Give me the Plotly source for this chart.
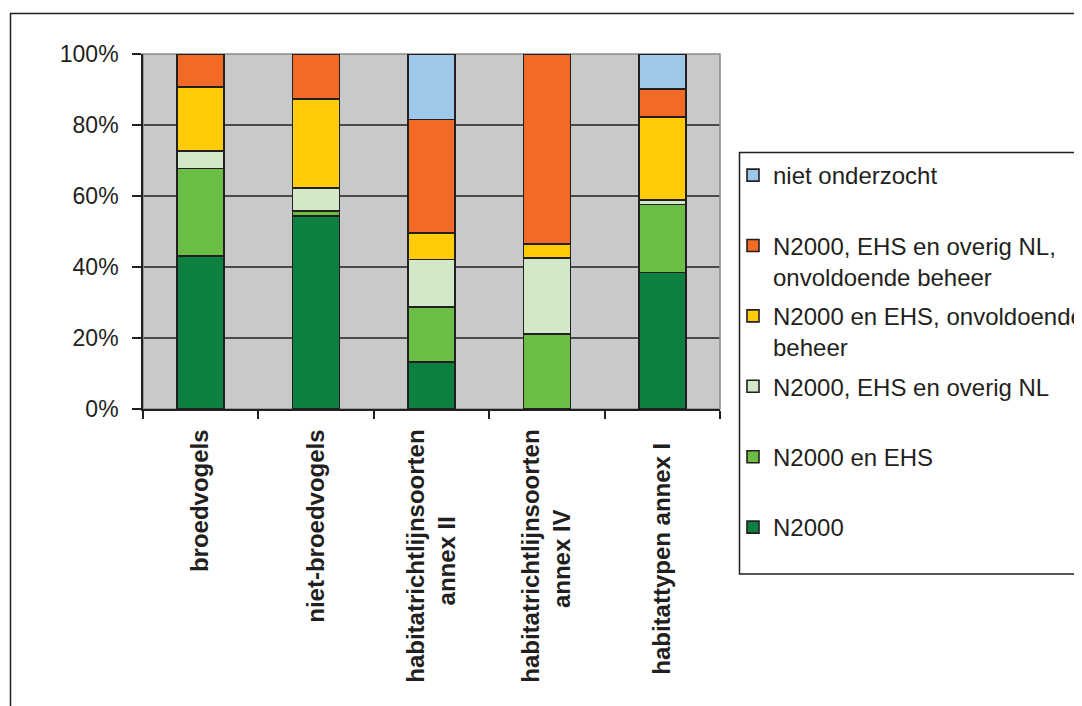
import plotly.graph_objects as go

NB = "\u00a0"
categories = ["broedvogels", "niet-broedvogels",
              "habitatrichtlijnsoorten<br>annex II" + NB * 13,
              "habitatrichtlijnsoorten<br>annex IV" + NB * 12,
              "habitattypen annex I" + NB * 2]

series_names = ["N2000", "N2000 en EHS", "N2000, EHS en overig NL",
                "N2000 en EHS, onvoldoende<br>beheer",
                "N2000, EHS en overig NL,<br>onvoldoende beheer", "niet onderzocht"]

n2000 = [43.1, 54.4, 13.2, 0.0, 38.4]
n2000_ehs = [24.6, 1.4, 15.5, 21.2, 19.2]
n2000_ehs_nl = [4.9, 6.4, 13.4, 21.3, 1.2]
n2000_ehs_onv = [18.1, 25.1, 7.5, 3.9, 23.4]
n2000_ehs_nl_onv = [9.3, 12.7, 32.0, 53.6, 7.9]
niet_onderzocht = [0.0, 0.0, 18.4, 0.0, 9.9]

series_values = [n2000, n2000_ehs, n2000_ehs_nl, n2000_ehs_onv, n2000_ehs_nl_onv, niet_onderzocht]
colors = ["#0B8040", "#6CBD45", "#D2E8C8", "#FFCC05", "#F26A23", "#9EC8EA"]

y_ticks = [0, 20, 40, 60, 80, 100]
y_ticktext = ["0%", "20%", "40%", "60%", "80%", "100%"]
grid_vals = [20, 40, 60, 80]

OFF = 8  # browser body margin
W, H = 1082, 706
L, R, T, B = 143 - OFF, 720 - OFF, 54 - OFF, 409 - OFF

def px(xp):
    return (xp - OFF - L) / (R - L)

def py(yp):
    return (B - (yp - OFF)) / (B - T)

DARK = "#231F20"
fig = go.Figure()
for i, (name, vals, col) in enumerate(zip(series_names, series_values, colors)):
    label = name if "<br>" in name else name + "<br>" + NB
    fig.add_trace(go.Bar(
        x=categories, y=vals, name=label, legendgroup=name, legendrank=1000 - i,
        marker=dict(color=col, line=dict(color=DARK, width=1.6)),
    ))

shapes = []
for g in grid_vals:
    shapes.append(dict(type="line", xref="paper", yref="y", x0=0, x1=1, y0=g, y1=g,
                       line=dict(color=DARK, width=1.6), layer="below"))
shapes.append(dict(type="rect", xref="paper", yref="paper", x0=0, x1=1, y0=0, y1=1,
                   line=dict(color="#8C8C8C", width=1.6), layer="below"))
# outer frame
shapes.append(dict(type="rect", xref="paper", yref="paper", x0=px(10.5), x1=px(1110),
                   y0=py(740), y1=py(13.5), line=dict(color=DARK, width=1.5), layer="below"))
# legend box
shapes.append(dict(type="rect", xref="paper", yref="paper", x0=px(739.5), x1=px(1110),
                   y0=py(574), y1=py(152.5), line=dict(color=DARK, width=1.5),
                   fillcolor="white", layer="below"))

fig.update_layout(
    width=W, height=H,
    margin=dict(l=L, r=W - R, t=T, b=H - B, autoexpand=False),
    barmode="stack", bargap=0.593,
    plot_bgcolor="#C8C9CB", paper_bgcolor="white",
    font=dict(family="Liberation Sans, Arial", size=24, color="#231F20"),
    shapes=shapes,
    showlegend=True,
    legend=dict(
        x=px(733), y=py(153), xanchor="left", yanchor="top",
        traceorder="grouped", tracegroupgap=5, valign="top",
        borderwidth=0, bgcolor="rgba(0,0,0,0)", maxheight=700,
        font=dict(family="Liberation Sans, Arial", size=24, color="#231F20"),
        itemwidth=30,
    ),
    xaxis=dict(
        showline=True, linecolor=DARK, linewidth=1.6,
        ticks="outside", tickson="boundaries", ticklen=8, tickcolor=DARK, tickwidth=1.6,
        tickangle=-90, tickfont=dict(size=24, weight="bold"),
        showgrid=False, ticklabelstandoff=9,
    ),
    yaxis=dict(
        range=[0, 100], tickvals=y_ticks, ticktext=y_ticktext,
        showline=True, linecolor=DARK, linewidth=1.6,
        ticks="outside", ticklen=9, tickcolor=DARK, tickwidth=1.6,
        tickfont=dict(size=23),
        showgrid=False, zeroline=False, ticklabelstandoff=9,
    ),
)

fig.write_html("out.html")
